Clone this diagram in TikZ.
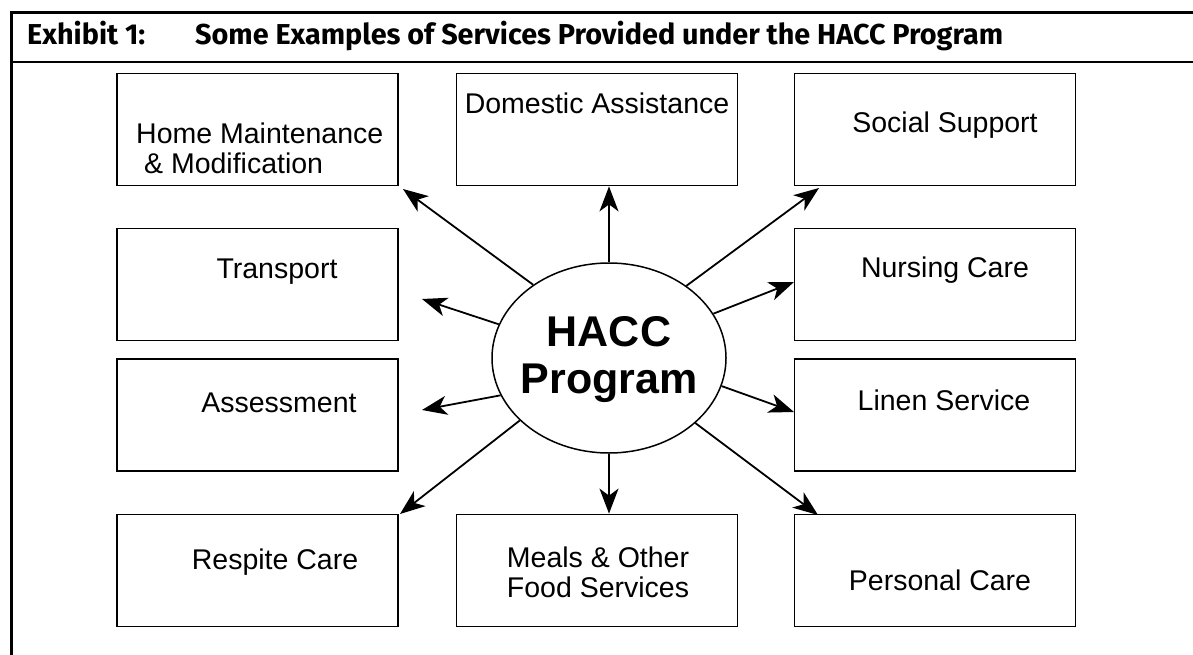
\documentclass[tikz,border=0pt]{standalone}
\usepackage{fontspec}
\setmainfont{Liberation Sans}
\newfontfamily\headfont{Fira Sans}
\usetikzlibrary{arrows.meta,shapes.geometric}

\tikzset{
  box/.style={draw, line width=1.8pt, minimum width=281pt, minimum height=112pt, inner sep=0pt},
  txt/.style={font=\fontsize{28.5}{30}\selectfont, align=left, inner sep=0pt},
  head/.style={anchor=base west, inner sep=0pt, font=\headfont\bfseries\fontsize{28.8}{32}\selectfont},
  hub/.style={draw, ellipse, line width=1.5pt, minimum width=234pt, minimum height=190pt, inner sep=0pt},
  link/.style={line width=1.8pt, -{Stealth[length=25pt,width=19pt,inset=7pt]}}
}

\begin{document}
\begin{tikzpicture}[x=1pt,y=-1pt]
    \useasboundingbox (0,0) rectangle (1193,655);

    % frame and heading
    \draw[line width=2.2pt] (1193,12.5) -- (11.5,12.5) -- (11.5,655);
    \draw[line width=2.2pt] (11.5,62) -- (1193,62);
    \node[head] (exh) at (27,45) {Exhibit 1:};
    \node[head] (title) at (195,45) {Some Examples of Services Provided under the HACC Program};

    % service boxes
    \node[box] (home) at (257.5,129.5) {};
    \node[box] (dom) at (597,129.5) {};
    \node[box] (social) at (935,129.5) {};
    \node[box] (trans) at (257.5,284.5) {};
    \node[box] (nurse) at (935,284.5) {};
    \node[box] (assess) at (257.5,415) {};
    \node[box] (linen) at (935,415) {};
    \node[box] (respite) at (257.5,570.5) {};
    \node[box] (meals) at (597,570.5) {};
    \node[box] (personal) at (935,570.5) {};

    \node[txt, anchor=west] (hometxt) at (136,148) {Home Maintenance\\\ \& Modification};
    \node[txt] (domtxt) at (597,103) {Domestic Assistance};
    \node[txt] (socialtxt) at (945,125) {Social Support};
    \node[txt] (transtxt) at (277,272) {Transport};
    \node[txt] (nursetxt) at (945,270) {Nursing Care};
    \node[txt] (assesstxt) at (279,403) {Assessment};
    \node[txt] (linentxt) at (944,400) {Linen Service};
    \node[txt] (respitetxt) at (275,562) {Respite Care};
    \node[txt] (mealstxt) at (598,572) {Meals \& Other\\Food Services};
    \node[txt] (personaltxt) at (940,580) {Personal Care};

    % the program in the middle
    \node[hub] (hub) at (609,358) {};
    \node[align=center, inner sep=0pt, font=\fontsize{43}{47}\selectfont\bfseries] (hubtxt) at (609,360) {HACC\\Program};

    % arrow tips
    \coordinate (thome) at (403,189);
    \coordinate (tsocial) at (819,188);
    \coordinate (ttrans) at (422,299);
    \coordinate (tnurse) at (794,282);
    \coordinate (tassess) at (422,410);
    \coordinate (tlinen) at (794,412);
    \coordinate (trespite) at (400,514);
    \coordinate (tpersonal) at (818,515);

    \draw[link] (hub.136) -- (thome);
    \draw[link] (hub.north) -- (hub.north |- dom.south);
    \draw[link] (hub.43) -- (tsocial);
    \draw[link] (hub.163) -- (ttrans);
    \draw[link] (hub.23) -- (tnurse);
    \draw[link] (hub.199) -- (tassess);
    \draw[link] (hub.-14) -- (tlinen);
    \draw[link] (hub.215) -- (trespite);
    \draw[link] (hub.south) -- (hub.south |- meals.north);
    \draw[link] (hub.-37) -- (tpersonal);

\end{tikzpicture}
\end{document}
